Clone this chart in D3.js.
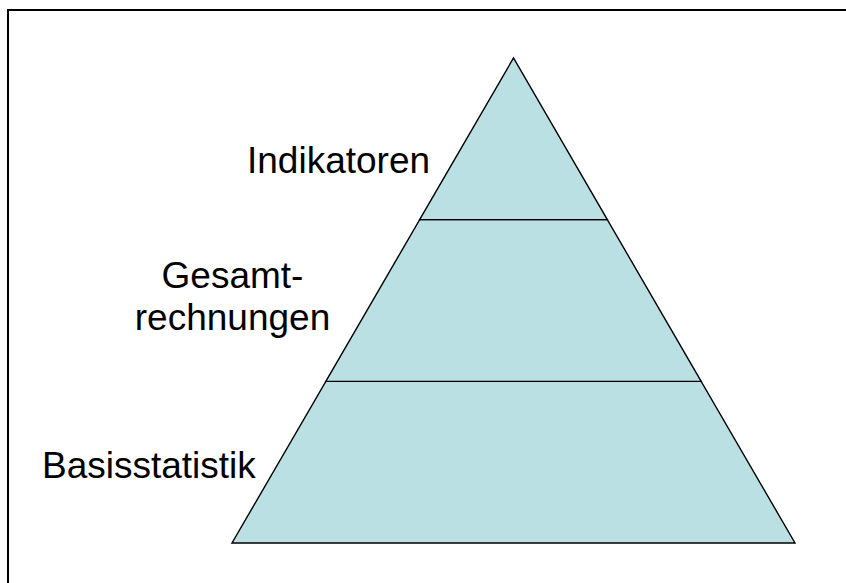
<!DOCTYPE html>
<meta charset="utf-8">
<style>
body {
  margin: 0;
  background: #ffffff;
}

svg {
  display: block;
}

.frame {
  fill: none;
  stroke: #000000;
  stroke-width: 2;
}

.tier {
  fill: #bbe0e3;
  stroke: #000000;
  stroke-width: 1.4;
  stroke-linejoin: miter;
}

text.label {
  font-family: 'Liberation Sans', Arial, sans-serif;
  font-size: 37px;
  fill: #000000;
}
</style>
<body>
<svg width="846" height="583"></svg>

<script src="https://cdn.jsdelivr.net/npm/d3@7"></script>
<script>

    // pyramid tiers, bottom to top
    const tiers = ["Basisstatistik", "Gesamtrechnungen", "Indikatoren"];
    const labelLines = [["Basisstatistik"], ["Gesamt-", "rechnungen"], ["Indikatoren"]];
    // each tier spans one unit of height
    const tierStart = [0, 1, 2];
    const tierEnd = [1, 2, 3];

    const svg = d3.select('svg');

    // level 0 = base, 3 = apex
    const yScale = d3.scaleLinear()
      .domain([0, tiers.length])
      .range([543, 58]);

    // horizontal position, -1 = left base corner, 1 = right base corner
    const xScale = d3.scaleLinear()
      .domain([-1, 1])
      .range([232, 795]);

    const halfWidth = (lv) => 1 - lv / tiers.length;

    // frame (only top and left edges fall inside the picture)
    svg.append('rect')
      .attr('class', 'frame')
      .attr('x', 8)
      .attr('y', 10)
      .attr('width', 900)
      .attr('height', 700);

    const tierData = tiers.map((t, i) => ({ name: t, lo: tierStart[i], hi: tierEnd[i] }));

    svg.selectAll('path.tier')
      .data(tierData)
      .enter()
      .append('path')
      .attr('class', 'tier')
      .attr('d', (d) => {
        const pts = [
          [xScale(-halfWidth(d.lo)), yScale(d.lo)],
          [xScale(halfWidth(d.lo)), yScale(d.lo)],
          [xScale(halfWidth(d.hi)), yScale(d.hi)],
          [xScale(-halfWidth(d.hi)), yScale(d.hi)]
        ];
        return d3.line()(pts) + 'Z';
      });

    // label placement: anchor x, first baseline y
    const labelPos = [
      { x: 42, y: 478, anchor: 'start' },
      { x: 232.5, y: 288, anchor: 'middle' },
      { x: 247, y: 173, anchor: 'start' }
    ];

    const labels = svg.selectAll('text.label')
      .data(labelLines)
      .enter()
      .append('text')
      .attr('class', 'label')
      .attr('x', (d, i) => labelPos[i].x)
      .attr('y', (d, i) => labelPos[i].y)
      .attr('text-anchor', (d, i) => labelPos[i].anchor);

    labels.each(function (lines, i) {
      d3.select(this).selectAll('tspan')
        .data(lines)
        .enter()
        .append('tspan')
        .attr('x', labelPos[i].x)
        .attr('dy', (l, j) => j === 0 ? 0 : 42)
        .text((l) => l);
    });

</script>
</body>
